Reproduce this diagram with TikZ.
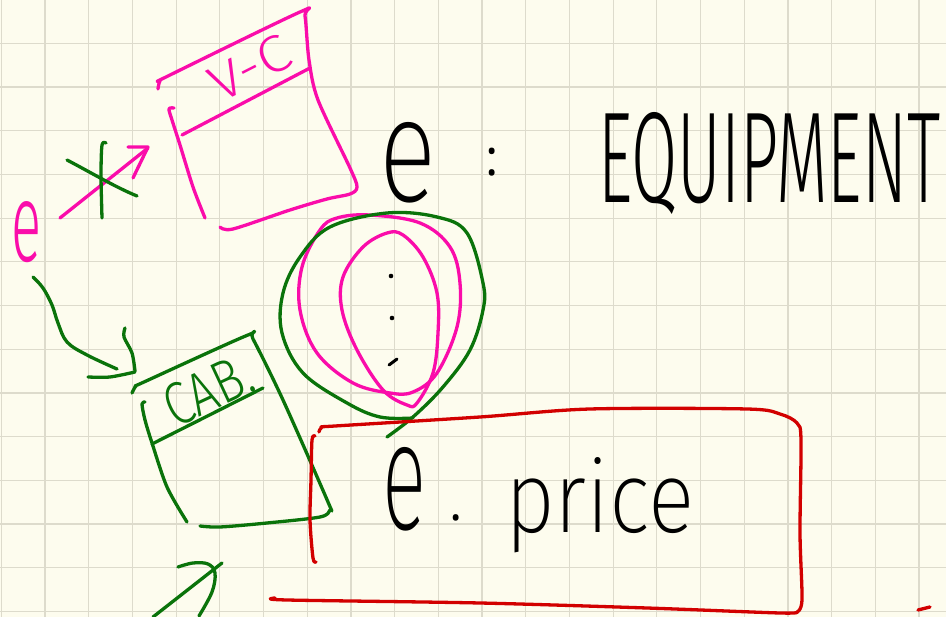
\documentclass[tikz,border=0pt]{standalone}
\usepackage{fontspec}
\setmainfont{Open Sans}
\IfFontExistsTF{Fira Sans ExtraLight}{\newfontfamily\xlightf{Fira Sans ExtraLight}}{\newfontfamily\xlightf{Open Sans}}
\IfFontExistsTF{Fira Sans Light}{\newfontfamily\lightf{Fira Sans Light}}{\newfontfamily\lightf{Open Sans}}
\usepackage{graphicx}
\definecolor{paper}{RGB}{253,252,238}
\definecolor{gridc}{RGB}{221,219,204}
\definecolor{pk}{RGB}{250,12,170}
\definecolor{gr}{RGB}{10,115,10}
\definecolor{rd}{RGB}{210,0,0}
\begin{document}
\begin{tikzpicture}[x=1pt,y=-1pt, line cap=round, line join=round,
  ink/.style={line width=3.3pt},
  pkl/.style={ink, draw=pk},
  grl/.style={ink, draw=gr},
  rdl/.style={ink, draw=rd},
  bkl/.style={ink, draw=black},
  txt/.style={inner sep=0pt, outer sep=0pt}]
\fill[paper] (0,0) rectangle (946,617);
\useasboundingbox (0,0) rectangle (946,617);
\foreach \k in {-1,...,20} \draw[gridc, line width=1.2pt] ({45+43.7*\k},0) -- ({45+43.7*\k},617);
\foreach \k in {1,...,14} \draw[gridc, line width=1.2pt] (0,{43.7*\k-0.3}) -- (946,{43.7*\k-0.3});

% ---- texts ----
\node[txt, text=pk, anchor=base] (eL) at (27,262) {\lightf\resizebox{30pt}{60pt}{e}};
\node[txt, anchor=base] (eTop) at (408,202) {\xlightf\resizebox{57pt}{79pt}{e}};
\node[txt, anchor=base] (colon) at (492,176) {\fontsize{50}{50}\selectfont :};
\node[txt, anchor=base west] (equip) at (598,203) {\lightf\resizebox{342pt}{90pt}{EQUIPMENT}};
\node[txt, anchor=base] (eBot) at (405,530) {\xlightf\resizebox{44pt}{82pt}{e}};
\node[txt, anchor=base] (dot) at (456,521) {\fontsize{50}{50}\selectfont .};
\node[txt, anchor=base west] (price) at (505,533) {\xlightf\resizebox{190pt}{75pt}{price}};
\node[txt, text=pk, rotate=27] (vc) at (250,68) {\lightf\resizebox{85pt}{36pt}{V-C}};
\node[txt, text=gr, rotate=25] (cab) at (208,390) {\lightf\resizebox{92pt}{42pt}{CAB.}};

% ---- pink V-C box ----
\draw[pkl] plot[smooth,tension=0.5] coordinates {(158,89) (160,81) (168,76) (300,12) (305,16) (309,60) (318,100) (350,168) (357,187) (350,194) (327,199) (290,210) (233,229) (220,227)};
\draw[pkl] plot[smooth,tension=0.5] coordinates {(174,108) (169,109) (172,120) (180,145) (193,187) (205,218)};
\draw[pkl] (182,135) -- (310,68);

% ---- pink arrow, crossed out ----
\coordinate (pa1) at (60,218);
\coordinate (pa2) at (148,148);
\draw[pkl] (pa1) -- (pa2);
\draw[pkl] (128,147) -- (148,147) -- (133,178);
\draw[grl] plot[smooth] coordinates {(106,143) (102,145) (101,175) (102,218)};
\draw[grl] (67,160) .. controls (90,172) and (115,187) .. (137,196);

% ---- green curved arrow ----
\coordinate (ga1) at (33,277);
\coordinate (ga2) at (117,369);
\draw[grl] plot[smooth,tension=0.6] coordinates {(ga1) (43,288) (52,305) (58,323) (67,342) (87,355) (ga2)};
\draw[grl] plot[smooth] coordinates {(88,377) (110,377) (135,372)};
\draw[grl] plot[smooth] coordinates {(125,328) (124,337) (132,353) (135,371)};

% ---- green CAB box ----
\draw[grl] plot[smooth,tension=0.5] coordinates {(132,393) (136,386) (144,382) (248,335) (253,339) (283,400) (328,502) (330,510) (320,517) (267,523) (220,527) (200,526)};
\draw[grl] plot[smooth,tension=0.5] coordinates {(145,402) (142,404) (145,420) (152,443) (167,487) (187,522)};
\draw[grl] (152,444) -- (263,388);

% ---- green bottom arrow ----
\coordinate (gb1) at (153,617);
\coordinate (gb2) at (222,563);
\draw[grl] (gb1) -- (gb2);
\draw[grl] plot[smooth,tension=0.6] coordinates {(178,567) (193,563) (208,564) (215,573) (212,592) (199,616)};

% ---- ovals ----
\draw[pkl] plot[smooth cycle,tension=0.6] coordinates {(320,230) (302,267) (300,310) (317,353) (353,383) (390,393) (413,392) (437,373) (457,327) (460,283) (450,247) (420,223) (370,215) (337,218)};
\draw[pkl] plot[smooth cycle,tension=0.6] coordinates {(387,233) (403,235) (423,257) (437,293) (438,333) (433,373) (417,403) (407,405) (383,390) (357,350) (342,310) (343,277) (363,247)};
\draw[grl] plot[smooth,tension=0.6] coordinates {(413,418) (380,417) (347,403) (303,373) (282,333) (283,293) (300,257) (330,227) (387,213) (437,217) (467,233) (483,283) (483,310) (470,350) (443,387) (413,417) (387,437)};
\fill (391,276) circle[radius=2.3];
\fill (392,318) circle[radius=2.3];
\draw[bkl, line width=3pt] (389,365) -- (397,359);

% ---- red box ----
\draw[rdl] plot[smooth,tension=0.5] coordinates {(319,432) (322,427) (335,426) (480,417) (590,409) (747,409) (780,414) (797,423) (801,440) (800,533) (802,600) (797,612)};
\draw[rdl] plot[smooth,tension=0.5] coordinates {(275,598) (287,600) (480,603) (647,608) (780,613) (797,612)};
\draw[rdl] plot[smooth,tension=0.5] coordinates {(315,436) (312,440) (311,480) (310,520) (313,558) (316,562)};
\draw[rdl] (918,610) -- (930,607);
\end{tikzpicture}
\end{document}
